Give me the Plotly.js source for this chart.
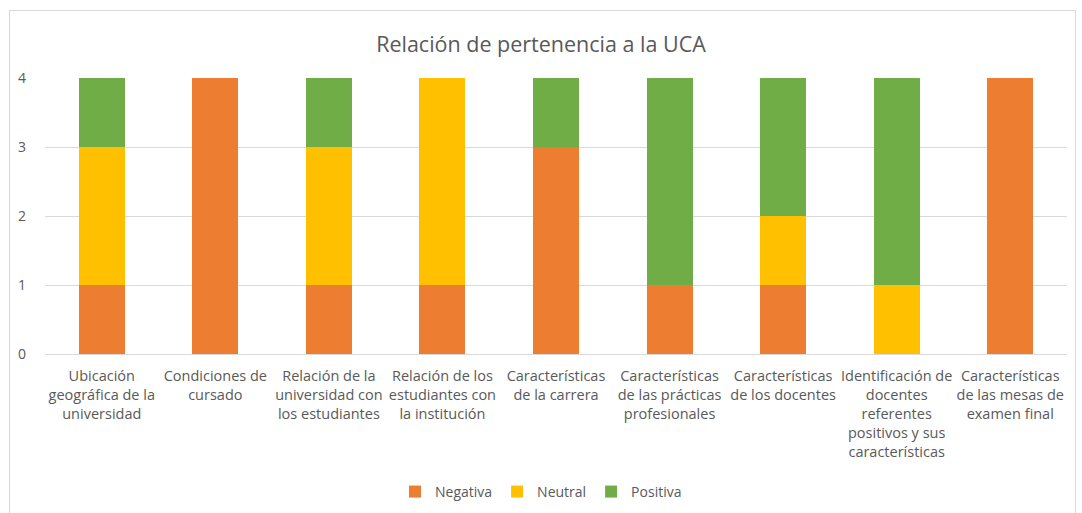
<!DOCTYPE html>
<html>
<head>
<meta charset="utf-8">
<script src="https://cdn.plot.ly/plotly-3.0.1.min.js"></script>
<style>
html,body{margin:0;padding:0;background:#fff;}
#wrap{position:relative;width:1082px;height:513px;}
#chart{width:1082px;height:513px;}
#frame{position:absolute;left:9px;top:10px;width:1067px;height:510px;border:1px solid #d9d9d9;pointer-events:none;box-sizing:border-box;}
</style>
</head>
<body>
<div id="wrap"><div id="chart"></div><div id="frame"></div></div>
<script>
const categories = [
  "Ubicación<br>geográfica de la<br>universidad",
  "Condiciones de<br>cursado",
  "Relación de la<br>universidad con<br>los estudiantes",
  "Relación de los<br>estudiantes con<br>la institución",
  "Características<br>de la carrera",
  "Características<br>de las prácticas<br>profesionales",
  "Características<br>de los docentes",
  "Identificación de<br>docentes<br>referentes<br>positivos y sus<br>características",
  "Características<br>de las mesas de<br>examen final"
];
const negativa = [1, 4, 1, 1, 3, 1, 1, 0, 4];
const neutral  = [2, 0, 2, 3, 0, 0, 1, 1, 0];
const positiva = [1, 0, 1, 0, 1, 3, 2, 3, 0];

const fontFam = "'Open Sans', Lato, sans-serif";
const traces = [
  {name:"Negativa", x:categories, y:negativa, type:"bar", marker:{color:"#ED7D31"}},
  {name:"Neutral",  x:categories, y:neutral,  type:"bar", marker:{color:"#FFC000"}},
  {name:"Positiva", x:categories, y:positiva, type:"bar", marker:{color:"#70AD47"}}
];
const layout = {
  width:1082, height:513,
  barmode:"stack", bargap:0.595,
  margin:{l:45, r:15, t:78, b:159, autoexpand:false},
  paper_bgcolor:"#fff", plot_bgcolor:"#fff",
  font:{family:fontFam, color:"#595959", size:14},
  title:{text:"Relación de pertenencia a la UCA", x:0.5, xanchor:"center", y:0.913, yanchor:"middle",
         font:{family:fontFam, size:21.5, color:"#595959"}},
  xaxis:{tickangle:0, showline:true, linecolor:"#d9d9d9", ticks:"", tickfont:{size:14.5}, automargin:false, ticklabelstandoff:9},
  yaxis:{range:[0,4], dtick:1, showgrid:true, gridcolor:"#d9d9d9", zeroline:false, tickfont:{size:14}, ticklabelstandoff:18},
  legend:{orientation:"h", x:0.5, xanchor:"center", xref:"container", yref:"container", y:0.041, yanchor:"middle", font:{size:14}, traceorder:"normal", itemwidth:30},
  showlegend:true
};
Plotly.newPlot("chart", traces, layout, {displayModeBar:false, staticPlot:true});
</script>
</body>
</html>
